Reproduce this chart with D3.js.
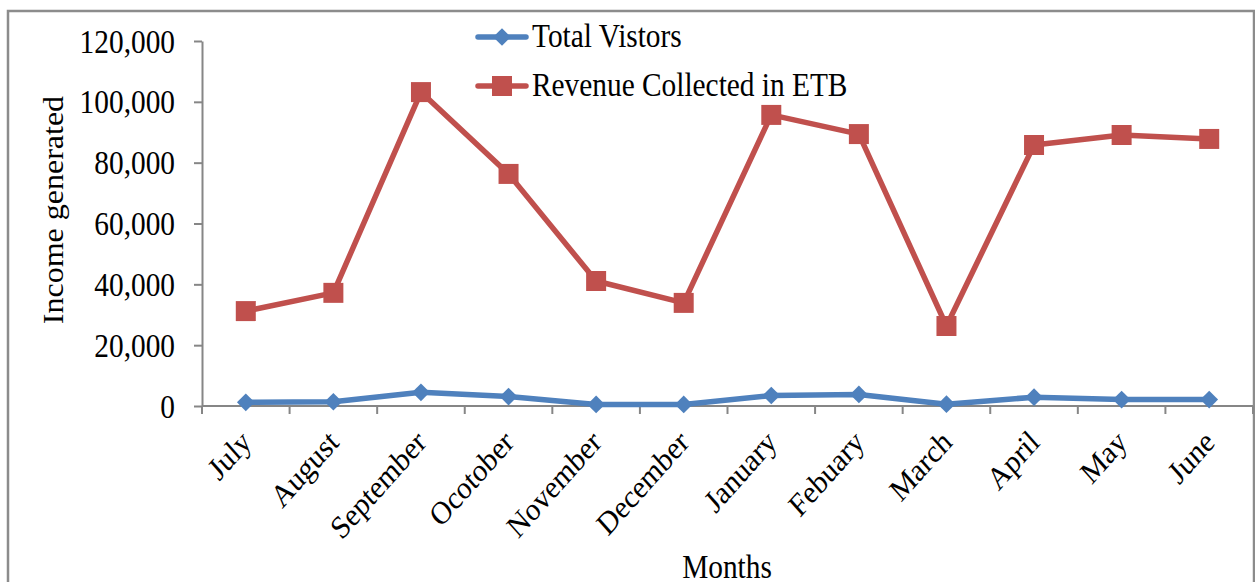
<!DOCTYPE html>
<html>
<head>
<meta charset="utf-8">
<script src="https://cdn.jsdelivr.net/npm/d3@7"></script>
<style>
  html, body { margin: 0; padding: 0; background: #fff; }
  svg { display: block; }
  text { font-family: "Liberation Serif", "Times New Roman", serif; fill: #000; }
</style>
</head>
<body>
<svg id="chart" width="1255" height="582"></svg>
<script>
// Monthly figures, July through June
const months = ["July", "August", "September", "Ocotober", "November", "December",
                "January", "Febuary", "March", "April", "May", "June"];
const totalVisitors = [1200, 1400, 4500, 3100, 500, 500, 3450, 3800, 600, 2900, 2100, 2100];
const revenueETB = [31200, 37200, 103200, 76300, 41100, 33900, 95700, 89400, 26300, 85800, 89100, 87800];
const yTickValues = [0, 20000, 40000, 60000, 80000, 100000, 120000];
const seriesNames = ["Total Vistors", "Revenue Collected in ETB"];

const BLUE = "#4F81BD", RED = "#C0504D", GRAY = "#868686";
const SX = 0.89; // horizontal squeeze of the serif lettering

const svg = d3.select("#chart");
const plot = { left: 202, right: 1253, top: 41, bottom: 406 };

// outer chart border
svg.append("rect")
  .attr("x", 8).attr("y", 11).attr("width", 1246).attr("height", 600)
  .attr("fill", "none").attr("stroke", "#8c8c8c").attr("stroke-width", 2.5);

const x = d3.scaleBand().domain(months).range([plot.left, plot.right]);
const y = d3.scaleLinear().domain([0, 120000]).range([plot.bottom, plot.top]);

// y axis
const yAxis = svg.append("g")
  .attr("transform", `translate(${plot.left},0)`)
  .call(d3.axisLeft(y).tickValues(yTickValues).tickFormat(d3.format(",")).tickSize(8).tickSizeOuter(0));
yAxis.select(".domain").attr("stroke", GRAY).attr("stroke-width", 2);
yAxis.selectAll(".tick line").attr("stroke", GRAY).attr("stroke-width", 2);
yAxis.selectAll(".tick text")
  .attr("x", null).attr("dy", null)
  .attr("font-size", 33)
  .attr("text-anchor", "end")
  .attr("dominant-baseline", "central")
  .attr("transform", `translate(-27,0) scale(${SX},1)`);

// x axis: baseline, boundary ticks, rotated month labels
const xAxis = svg.append("g")
  .attr("transform", `translate(0,${plot.bottom})`)
  .call(d3.axisBottom(x).tickSize(0).tickSizeOuter(0));
xAxis.select(".domain").remove();
svg.append("line")
  .attr("x1", plot.left).attr("x2", plot.right)
  .attr("y1", plot.bottom).attr("y2", plot.bottom)
  .attr("stroke", GRAY).attr("stroke-width", 2);
const boundaries = months.map(m => x(m)).concat([plot.right]);
svg.append("g").selectAll("line").data(boundaries).join("line")
  .attr("x1", d => d).attr("x2", d => d)
  .attr("y1", plot.bottom).attr("y2", plot.bottom + 8)
  .attr("stroke", GRAY).attr("stroke-width", 2);
xAxis.selectAll(".tick text")
  .attr("y", null).attr("dy", null)
  .attr("font-size", 32)
  .attr("text-anchor", "end")
  .attr("transform", `translate(7,38) scale(${SX},1) rotate(-45)`);

// axis titles
svg.append("text")
  .attr("transform", `translate(63,210) scale(${SX},1) rotate(-90)`)
  .attr("text-anchor", "middle").attr("font-size", 32)
  .text("Income generated");
svg.append("text")
  .attr("transform", `translate(727,578) scale(${SX},1)`)
  .attr("text-anchor", "middle").attr("font-size", 33)
  .text("Months");

// series lines and markers
const cx = m => x(m) + x.bandwidth() / 2;
const line = d3.line().x((d, i) => cx(months[i])).y(d => y(d));
const diamond = d3.symbol().type(d3.symbolDiamond2).size(200);
const square = d3.symbol().type(d3.symbolSquare).size(400);

function drawSeries(values, color, symbolGen) {
  svg.append("path").datum(values)
    .attr("d", line).attr("fill", "none")
    .attr("stroke", color).attr("stroke-width", 5.5)
    .attr("stroke-linejoin", "round").attr("stroke-linecap", "round");
  svg.append("g").selectAll("path").data(values).join("path")
    .attr("d", symbolGen)
    .attr("transform", (d, i) => `translate(${cx(months[i])},${y(d)})`)
    .attr("fill", color);
}
drawSeries(revenueETB, RED, square);
drawSeries(totalVisitors, BLUE, diamond);

// legend
const legend = svg.append("g");
const legendItems = [
  { name: seriesNames[0], color: BLUE, sym: diamond, y: 37 },
  { name: seriesNames[1], color: RED, sym: square, y: 86 }
];
legendItems.forEach(it => {
  legend.append("line")
    .attr("x1", 478).attr("x2", 526).attr("y1", it.y).attr("y2", it.y)
    .attr("stroke", it.color).attr("stroke-width", 5.5).attr("stroke-linecap", "round");
  legend.append("path").attr("d", it.sym)
    .attr("transform", `translate(502,${it.y})`).attr("fill", it.color);
  legend.append("text")
    .attr("transform", `translate(532,${it.y + 10}) scale(${SX},1)`)
    .attr("font-size", 33)
    .text(it.name);
});
</script>
</body>
</html>
